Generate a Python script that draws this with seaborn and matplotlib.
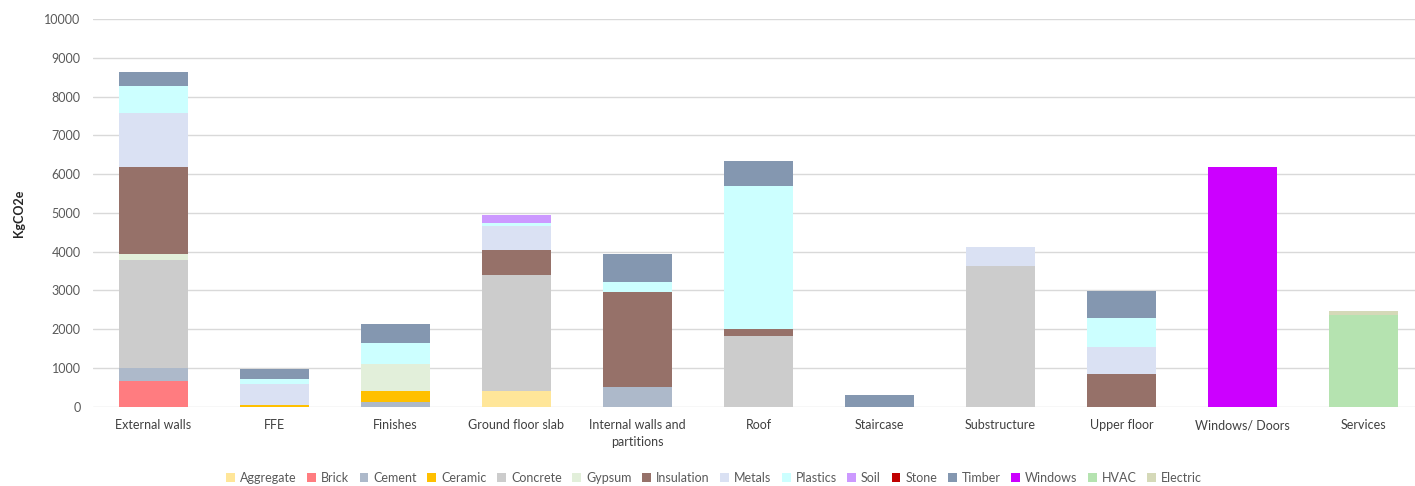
import numpy as np
import pandas as pd
import matplotlib
matplotlib.use("Agg")
import matplotlib.pyplot as plt
from matplotlib.patches import Patch
import seaborn as sns

# Building elements (x axis)
categories = ["External walls", "FFE", "Finishes", "Ground floor slab",
              "Internal walls and\npartitions", "Roof", "Staircase",
              "Substructure", "Upper floor", "Windows/ Doors", "Services"]

# Material groups, bottom to top of each stack
materials = ["Aggregate", "Brick", "Cement", "Ceramic", "Concrete", "Gypsum",
             "Insulation", "Metals", "Plastics", "Soil", "Stone", "Timber",
             "Windows", "HVAC", "Electric"]

colors = ["#FFE699", "#FF7C80", "#ADB9CA", "#FFC000", "#CCCCCC", "#E2EFDA",
          "#967169", "#DAE1F3", "#CCFFFF", "#CC99FF", "#C00000", "#8497B0",
          "#CC00FF", "#B5E3B0", "#D5D9B8"]

# Embodied carbon per element and material (kgCO2e)
aggregate  = [0,    0,   0,    405,  0,    0,    0,   0,    0,   0,    0]
brick      = [670,  0,   0,    0,    0,    0,    0,   0,    0,   0,    0]
cement     = [330,  0,   130,  0,    510,  0,    0,   0,    0,   0,    0]
ceramic    = [0,    45,  275,  0,    0,    0,    0,   0,    0,   0,    0]
concrete   = [2780, 0,   0,    2985, 0,    1820, 0,   3640, 0,   0,    0]
gypsum     = [170,  0,   695,  0,    0,    0,    0,   0,    0,   0,    0]
insulation = [2230, 0,   0,    645,  2440, 190,  0,   0,    850, 0,    0]
metals     = [1390, 540, 0,    620,  0,    0,    0,   480,  700, 0,    0]
plastics   = [710,  130, 535,  85,   260,  3680, 0,   0,    740, 0,    0]
soil       = [0,    0,   0,    200,  0,    0,    0,   0,    0,   0,    0]
stone      = [0,    0,   0,    0,    0,    0,    0,   0,    0,   0,    0]
timber     = [350,  260, 500,  0,    720,  660,  310, 0,    700, 0,    0]
windows    = [0,    0,   0,    0,    0,    0,    0,   0,    0,   6175, 0]
hvac       = [0,    0,   0,    0,    0,    0,    0,   0,    0,   0,    2370]
electric   = [0,    0,   0,    0,    0,    0,    0,   0,    0,   0,    110]

series = [aggregate, brick, cement, ceramic, concrete, gypsum, insulation,
          metals, plastics, soil, stone, timber, windows, hvac, electric]

yticks = [0, 1000, 2000, 3000, 4000, 5000, 6000, 7000, 8000, 9000, 10000]

# Long-form table, rows ordered by element so the x order follows `categories`
rows = []
for ci, cat in enumerate(categories):
    for mat, vals in zip(materials, series):
        rows.append({"element": cat, "material": mat, "kg": vals[ci]})
df = pd.DataFrame(rows)
present = [m for m, v in zip(materials, series) if sum(v) > 0]
df = df[df["material"].isin(present)]
palette = dict(zip(materials, colors))

sns.set_theme(style="white")
plt.rcParams["font.family"] = ["Lato", "DejaVu Sans"]

fig = plt.figure(figsize=(14.15, 4.86), dpi=100)
W, H = 1415, 486
ax = fig.add_axes([93 / W, (H - 406.7) / H, (W - 93) / W, (406.7 - 19) / H])

# seaborn stacks the last hue level at the bottom, so pass the order reversed
sns.histplot(data=df, x="element", weights="kg", hue="material",
             hue_order=present[::-1], palette=palette, multiple="stack",
             discrete=True, shrink=0.57, alpha=1, linewidth=0,
             legend=False, ax=ax)

ax.set_xlim(-0.5, (W - 93) / 121 - 0.5)
ax.set_ylim(0, 10000)
ax.set_yticks(yticks)
ax.set_yticklabels([str(t) for t in yticks], fontsize=9, color="#595959")
ax.set_xticks(range(len(categories)))
ax.set_xticklabels(categories, fontsize=9, color="#404040", linespacing=1.45)
ax.tick_params(axis="both", length=0)
ax.tick_params(axis="y", pad=9)
ax.tick_params(axis="x", pad=9)
ax.set_xlabel("")
ax.set_ylabel("KgCO2e", fontsize=9, fontweight="bold", color="#262626",
              labelpad=14)
ax.yaxis.grid(True, color="#D9D9D9", linewidth=1)
ax.set_axisbelow(True)
for s in ax.spines.values():
    s.set_visible(False)

handles = [Patch(facecolor=c, edgecolor="none", label=m)
           for m, c in zip(materials, colors)]
leg = fig.legend(handles=handles, loc="center", bbox_to_anchor=(714 / W, 1 - 478 / H),
                 ncol=len(materials), frameon=False, fontsize=9,
                 handlelength=0.7, handleheight=0.7, handletextpad=0.4,
                 columnspacing=0.85)
for t in leg.get_texts():
    t.set_color("#595959")

fig.savefig("out.png", dpi=100)
